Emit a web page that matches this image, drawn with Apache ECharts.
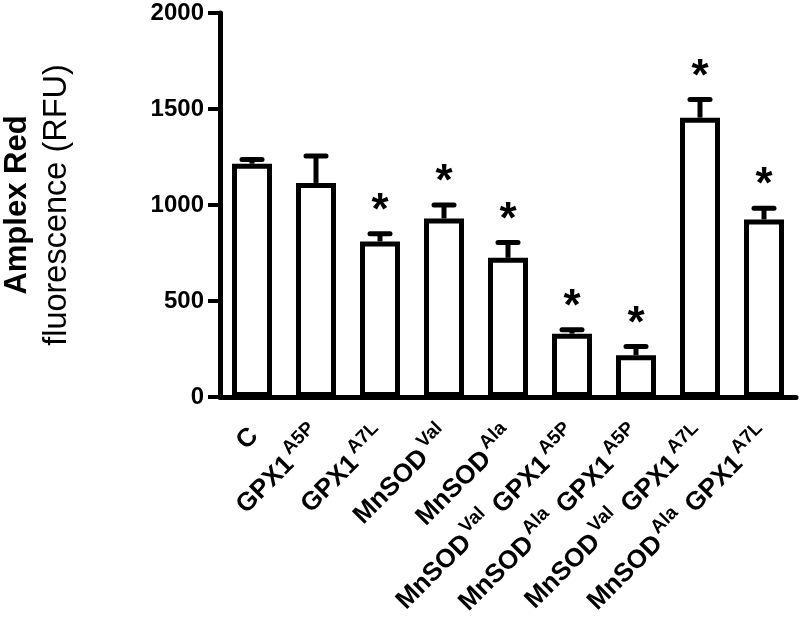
<!DOCTYPE html>
<html>
<head>
<meta charset="utf-8">
<script src="https://cdn.jsdelivr.net/npm/echarts@6/dist/echarts.min.js"></script>
<style>
  html, body { margin: 0; padding: 0; background: #fff; }
  #chart { width: 800px; height: 623px; }
</style>
</head>
<body>
<div id="chart"></div>
<script>
// groups, "^" marks a superscript part
const categories = ['C', 'GPX1^A5P', 'GPX1^A7L', 'MnSOD^Val', 'MnSOD^Ala',
  'MnSOD^Val GPX1^A5P', 'MnSOD^Ala GPX1^A5P', 'MnSOD^Val GPX1^A7L', 'MnSOD^Ala GPX1^A7L'];
const means = [1215, 1115, 810, 930, 725, 330, 218, 1455, 925];
const errors = [22, 140, 40, 70, 80, 20, 45, 95, 58];
const significant = [0, 0, 1, 1, 1, 1, 1, 1, 1];
const yTicks = [0, 500, 1000, 1500, 2000];

const FONT = "'Liberation Sans', Arial, sans-serif";

// "GPX1^A5P" -> rich text with superscript
const toRich = (name) => name.split(' ').map(word => {
  const [main, sup] = word.split('^');
  return sup ? `{m|${main}}{s|${sup}}` : `{m|${main}}`;
}).join('{sp| }');

const chart = echarts.init(document.getElementById('chart'));

const option = {
  backgroundColor: '#fff',
  animation: false,
  grid: {
    left: 220,
    right: 4,
    top: 13,
    bottom: 226,
    outerBoundsMode: 'none'
  },
  xAxis: {
    type: 'category',
    data: categories,
    axisLine: { lineStyle: { color: '#000', width: 5 } },
    axisTick: { alignWithLabel: true, length: 9, lineStyle: { color: '#000', width: 4 } },
    axisLabel: {
      interval: 0,
      rotate: 45,
      margin: 33,
      formatter: (v) => toRich(v),
      rich: {
        m: { fontFamily: FONT, fontWeight: 'bold', fontSize: 26, color: '#000', lineHeight: 32, verticalAlign: 'bottom' },
        sp: { fontFamily: FONT, fontWeight: 'bold', fontSize: 26, color: '#000', lineHeight: 32, padding: [0, 4, 0, 0] },
        s: { fontFamily: FONT, fontWeight: 'bold', fontSize: 19, color: '#000', lineHeight: 32, verticalAlign: 'top', padding: [0, 0, 0, 3] }
      }
    }
  },
  yAxis: {
    type: 'value',
    min: yTicks[0],
    max: yTicks[yTicks.length - 1],
    interval: 500,
    splitLine: { show: false },
    axisLine: { show: true, lineStyle: { color: '#000', width: 5 } },
    axisTick: { show: true, length: 12, lineStyle: { color: '#000', width: 4 } },
    axisLabel: {
      margin: 16,
      fontFamily: FONT,
      fontWeight: 'bold',
      fontSize: 24,
      color: '#000',
      formatter: (v) => String(v)
    },
    name: '{a|Amplex Red}\n{b|fluorescence (RFU)}',
    nameLocation: 'middle',
    nameRotate: 90,
    nameGap: 143,
    nameTextStyle: {
      rich: {
        a: { fontFamily: FONT, fontWeight: 'bold', fontSize: 31, color: '#000', lineHeight: 40 },
        b: { fontFamily: FONT, fontWeight: 'normal', fontSize: 32.5, color: '#000', lineHeight: 40 }
      }
    }
  },
  series: [
    {
      type: 'bar',
      data: means,
      barWidth: 40,
      itemStyle: { color: '#fff', borderColor: '#000', borderWidth: 5 }
    },
    {
      type: 'custom',
      data: means.map((m, i) => [i, m, errors[i], significant[i]]),
      z: 3,
      renderItem: (params, api) => {
        const i = api.value(0);
        const base = api.coord([i, api.value(1)]);
        const top = api.coord([i, api.value(1) + api.value(2)]);
        const children = [
          { type: 'line', shape: { x1: base[0], y1: base[1], x2: top[0], y2: top[1] },
            style: { stroke: '#000', lineWidth: 5 } },
          { type: 'line', shape: { x1: top[0] - 10, y1: top[1], x2: top[0] + 10, y2: top[1] },
            style: { stroke: '#000', lineWidth: 5, lineCap: 'round' } }
        ];
        if (api.value(3)) {
          children.push({
            type: 'text',
            x: top[0],
            y: top[1] - 22,
            style: { text: '*', font: `bold 44px ${FONT}`, fill: '#000', align: 'center', verticalAlign: 'middle' }
          });
        }
        return { type: 'group', children };
      }
    }
  ]
};

chart.setOption(option);
</script>
</body>
</html>
